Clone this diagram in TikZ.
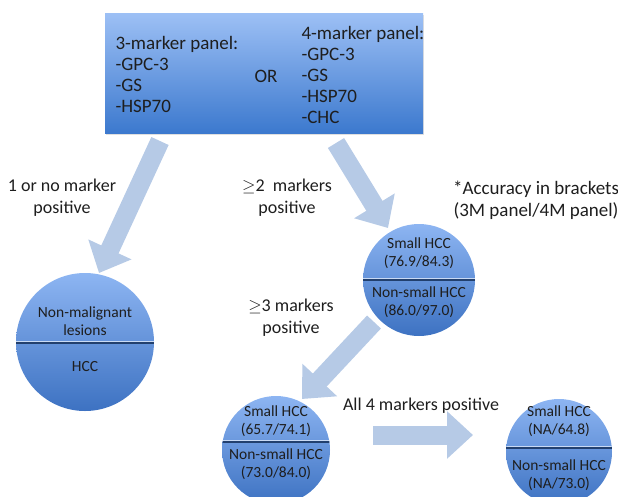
\documentclass[tikz,border=0pt]{standalone}
\usepackage{fontspec}
\setmainfont{Carlito}
\usetikzlibrary{arrows.meta,shadows}
\definecolor{boxtop}{HTML}{9DC0F5}
\definecolor{boxbot}{HTML}{3C79CE}
\definecolor{circtop}{HTML}{8DB5F2}
\definecolor{circbot}{HTML}{3D72C2}
\definecolor{arrowc}{HTML}{B6CAE6}
\definecolor{txt}{HTML}{1E1E1E}
\definecolor{linedark}{HTML}{22406E}
\definecolor{linelight}{HTML}{C9DAF4}

\begin{document}
\begin{tikzpicture}[x=1pt, y=-1pt,
    panel/.style={align=left, anchor=west, font=\fontsize{19}{21}\selectfont, text=txt},
    lbl/.style={align=center, font=\fontsize{18}{22}\selectfont, text=txt},
    ctext/.style={align=center, font=\fontsize{15.5}{18}\selectfont, text=txt, inner sep=0pt},
    circ/.style={circle, minimum size=#1, inner sep=0pt, top color=circtop, bottom color=circbot},
    divider/.style={path picture={
        \draw[linelight, line width=1.6pt] ([yshift=#1+1.4pt]path picture bounding box.west) -- ([yshift=#1+1.4pt]path picture bounding box.east);
        \draw[linedark, line width=1.8pt] ([yshift=#1-0.3pt]path picture bounding box.west) -- ([yshift=#1-0.3pt]path picture bounding box.east);}},
    fat/.style={draw=arrowc, line width=19pt, -{Triangle[length=26pt, width=46pt]}}]
  \useasboundingbox (0,0) rectangle (618,496);

  % marker panels
  \node[minimum width=318pt, minimum height=120pt, top color=boxtop, bottom color=boxbot,
        drop shadow={opacity=0.25, shadow xshift=1pt, shadow yshift=-2pt}] (panels) at (264,73) {};
  \node[panel] (p3) at (112,74) {3-marker panel:\\-GPC-3\\-GS\\-HSP70};
  \node[panel] (or) at (251,76) {OR};
  \node[panel] (p4) at (298,75) {4-marker panel:\\-GPC-3\\-GS\\-HSP70\\-CHC};

  % arrow ends
  \coordinate (a1s) at (160,141);
  \coordinate (a1e) at (99,273);
  \coordinate (a2s) at (336,143);
  \coordinate (a2e) at (388,228);
  \coordinate (a3s) at (374,322);
  \coordinate (a3e) at (302,399);
  \coordinate (a4s) at (373,435);
  \coordinate (a4e) at (473,435);
  \draw[fat] (a1s) -- (a1e);
  \draw[fat] (a2s) -- (a2e);
  \draw[fat] (a3s) -- (a3e);
  \draw[fat] (a4s) -- (a4e);

  % labels
  \node[lbl] (l1) at (62,198) {1 or no marker\\positive};
  \node[lbl] (l2) at (287,198) {$\geq$2\ \ markers\\positive};
  \node[lbl, font=\fontsize{19}{22}\selectfont] (note) at (536,200) {*Accuracy in brackets\\(3M panel/4M panel)};
  \node[lbl] (l3) at (291,318) {$\geq$3 markers\\positive};
  \node[lbl] (l4) at (421,406) {All 4 markers positive};

  % outcome circles
  \node[circ=138pt, divider=-1pt] (c1) at (85,342) {};
  \node[ctext] (c1a) at (85,321) {Non-malignant\\lesions};
  \node[ctext] (c1b) at (85,367) {HCC};

  \node[circ=112pt, divider=0pt] (c2) at (419,280) {};
  \node[ctext] (c2a) at (419,253) {Small HCC\\(76.9/84.3)};
  \node[ctext] (c2b) at (419,302) {Non-small HCC\\(86.0/97.0)};

  \node[circ=108pt, divider=8pt] (c3) at (276,450) {};
  \node[ctext] (c3a) at (276,421) {Small HCC\\(65.7/74.1)};
  \node[ctext] (c3b) at (276,464) {Non-small HCC\\(73.0/84.0)};

  \node[circ=106pt, divider=4pt] (c4) at (559,452) {};
  \node[ctext] (c4a) at (559,421) {Small HCC\\(NA/64.8)};
  \node[ctext] (c4b) at (559,475) {Non-small HCC\\(NA/73.0)};
\end{tikzpicture}
\end{document}
